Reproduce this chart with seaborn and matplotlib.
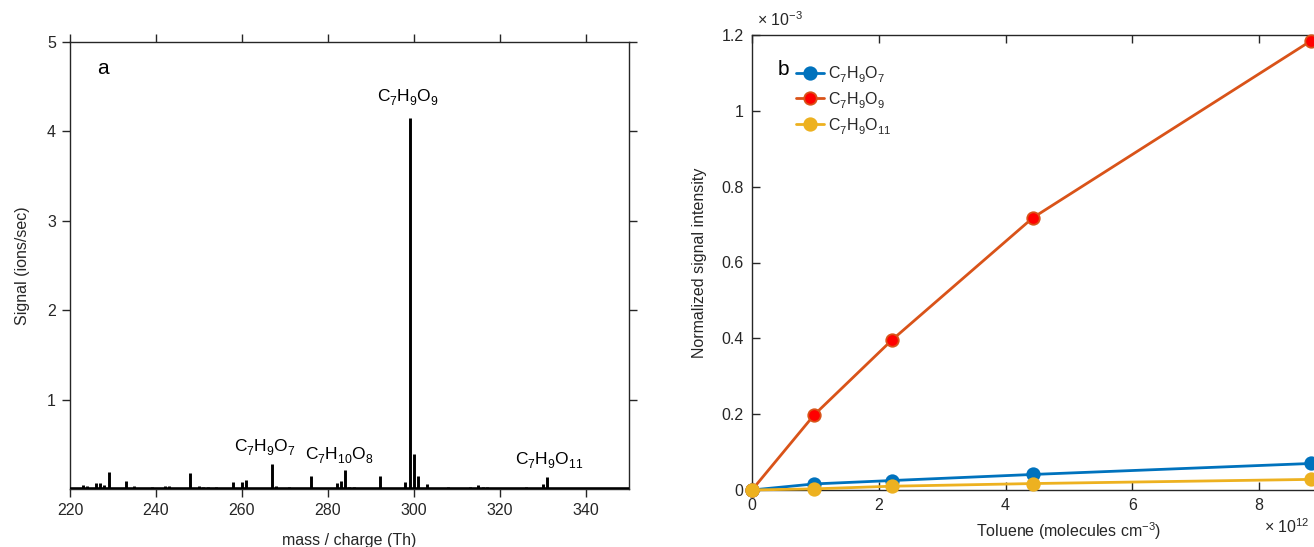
import matplotlib
matplotlib.use("Agg")
import matplotlib.pyplot as plt
import seaborn as sns
import pandas as pd
import numpy as np
from matplotlib.ticker import FuncFormatter, FixedLocator

try:
    import matplotlib._mathtext as _mt
    _mt.FontConstantsBase.sub1 = 0.55
    _mt.FontConstantsBase.sub2 = 0.75
except Exception:
    pass

# ---------------- data: panel a (mass spectrum) ----------------
peak_mass = [223, 224, 226, 227, 228, 229, 233, 235, 239, 242, 243, 248, 250, 251, 252,
             254, 258, 260, 261, 267, 268, 271, 276, 282, 283, 284, 285, 286, 292, 298,
             299, 300, 301, 303, 308, 313, 315, 316, 317, 326, 330, 331]
peak_signal = [0.05, 0.03, 0.07, 0.07, 0.04, 0.19, 0.09, 0.03, 0.02, 0.03, 0.03, 0.18, 0.03, 0.02, 0.02,
               0.02, 0.08, 0.08, 0.10, 0.28, 0.03, 0.02, 0.15, 0.07, 0.09, 0.21, 0.02, 0.02, 0.14, 0.08,
               4.15, 0.39, 0.14, 0.06, 0.02, 0.02, 0.05, 0.02, 0.02, 0.02, 0.06, 0.13]

spec_labels = [r"$\mathregular{C_7H_9O_9}$", r"$\mathregular{C_7H_9O_7}$",
               r"$\mathregular{C_7H_{10}O_8}$", r"$\mathregular{C_7H_9O_{11}}$"]
label_mass = [298.6, 265.3, 282.6, 331.4]
label_signal = [4.38, 0.46, 0.38, 0.32]

# ---------------- data: panel b ----------------
toluene = [0, 0.98e12, 2.21e12, 4.43e12, 8.82e12]
c7h9o7 = [0, 0.016e-3, 0.025e-3, 0.041e-3, 0.070e-3]
c7h9o9 = [0, 0.198e-3, 0.396e-3, 0.718e-3, 1.185e-3]
c7h9o11 = [0, 0.003e-3, 0.010e-3, 0.017e-3, 0.028e-3]
series_names = [r"$\mathregular{C_7H_9O_7}$", r"$\mathregular{C_7H_9O_9}$", r"$\mathregular{C_7H_9O_{11}}$"]

sns.set_theme(style="ticks")
plt.rcParams["font.family"] = ["Liberation Sans", "DejaVu Sans"]
plt.rcParams["mathtext.fontset"] = "custom"
plt.rcParams["mathtext.rm"] = "Liberation Sans"
plt.rcParams["mathtext.it"] = "Liberation Sans:italic"
plt.rcParams["mathtext.bf"] = "Liberation Sans:bold"

FS = 11.5
axis_col = "#262626"

fig = plt.figure(figsize=(13.14, 5.47), dpi=100)
W, H = 1314, 547

# ---------------- panel a ----------------
axa = fig.add_axes([70 / W, 1 - 489 / H, 559 / W, 447 / H])
axa.vlines(peak_mass, 0, peak_signal, color="black", lw=2.1)
axa.axhline(0, color="black", lw=2.6, zorder=3)
axa.set_xlim(220, 350)
axa.set_ylim(0, 5)
axa.set_xticks(np.arange(220, 341, 20))
axa.set_yticks([1, 2, 3, 4, 5])
axa.tick_params(direction="out", length=6, width=1, colors=axis_col, labelsize=FS,
                top=True, right=True, labeltop=False, labelright=False, pad=4)
for s in axa.spines.values():
    s.set_visible(True)
    s.set_color(axis_col)
    s.set_linewidth(1.0)
axa.set_xlabel("mass / charge (Th)", fontsize=FS, color=axis_col, labelpad=11)
axa.set_ylabel("Signal (ions/sec)", fontsize=FS, color=axis_col, labelpad=12)
for t, xm, ys in zip(spec_labels, label_mass, label_signal):
    axa.text(xm, ys, t, ha="center", va="center", fontsize=12.5, color="black")
axa.text(227.7, 4.7, "a", ha="center", va="center", fontsize=15, color="black")

# ---------------- panel b ----------------
axb = fig.add_axes([752 / W, 1 - 490 / H, 634 / W, 455 / H])
df = pd.DataFrame({"toluene": toluene * 3,
                   "signal": c7h9o7 + c7h9o9 + c7h9o11,
                   "species": [series_names[0]] * 5 + [series_names[1]] * 5 + [series_names[2]] * 5})
line_cols = ["#0072BD", "#D95319", "#EDB120"]
face_cols = ["#0072BD", "#FF0000", "#EDB120"]
for name, lc, fc in zip(series_names, line_cols, face_cols):
    sub = df[df["species"] == name]
    sns.lineplot(data=sub, x="toluene", y="signal", ax=axb, color=lc, lw=2.0,
                 marker="o", markersize=9, markerfacecolor=fc, markeredgecolor=lc,
                 markeredgewidth=1.3, label=name, clip_on=False, zorder=4)
axb.set_xlim(0, 10e12)
axb.set_ylim(0, 1.2e-3)
axb.xaxis.set_major_locator(FixedLocator([0, 2e12, 4e12, 6e12, 8e12]))
axb.yaxis.set_major_locator(FixedLocator([0, 0.2e-3, 0.4e-3, 0.6e-3, 0.8e-3, 1.0e-3, 1.2e-3]))
axb.xaxis.set_major_formatter(FuncFormatter(lambda v, p: f"{v / 1e12:g}"))
axb.yaxis.set_major_formatter(FuncFormatter(lambda v, p: f"{v / 1e-3:g}"))
axb.tick_params(direction="in", length=6, width=1, colors=axis_col, labelsize=FS,
                top=True, right=True, labeltop=False, labelright=False, pad=6)
for s in axb.spines.values():
    s.set_visible(True)
    s.set_color(axis_col)
    s.set_linewidth(1.0)
axb.set_xlabel(r"Toluene (molecules cm$^{-3}$)", fontsize=FS, color=axis_col, labelpad=5)
axb.set_ylabel("Normalized signal intensity", fontsize=FS, color=axis_col, labelpad=10)
leg = axb.legend(loc="upper left", bbox_to_anchor=(0.06, 0.95), frameon=False,
                 fontsize=FS, handlelength=1.7, handletextpad=0.3, labelspacing=0.3,
                 borderaxespad=0)
for t in leg.get_texts():
    t.set_color(axis_col)
axb.text(0.05, 0.925, "b", transform=axb.transAxes, ha="center", va="center",
         fontsize=15, color="black")
fig.text(757 / W, 1 - 20 / H, r"× 10$^{-3}$", ha="left", va="center", fontsize=11.5, color=axis_col)
fig.text(1264 / W, 1 - 527 / H, r"× 10$^{12}$", ha="left", va="center", fontsize=11.5, color=axis_col)

fig.savefig("out.png", dpi=100)
